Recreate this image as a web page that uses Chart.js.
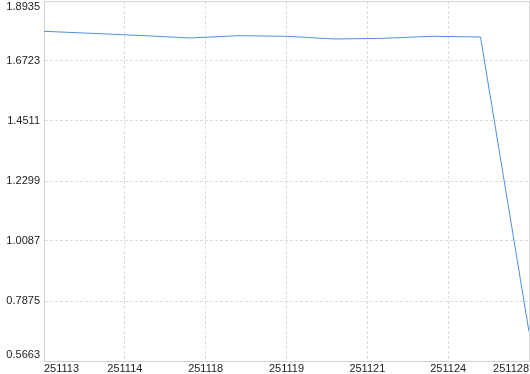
<!DOCTYPE html>
<html>
<head>
<meta charset="utf-8">
<script src="https://cdn.jsdelivr.net/npm/chart.js@4/dist/chart.umd.min.js"></script>
<style>
  html, body { margin: 0; padding: 0; background: #fff; }
  #wrap { width: 530px; height: 374px; position: relative; }
</style>
</head>
<body>
<div id="wrap"><canvas id="chart"></canvas></div>
<script>
// Data
const tickLabels = ['251113', '251114', '251118', '251119', '251121', '251124', '251128'];
const values = [1.7818, 1.7741, 1.7663, 1.7571, 1.7656, 1.7634, 1.7534, 1.7560, 1.7634, 1.7608, 0.6743];
const yMin = 0.5663;
const yMax = 1.8935;
const yStep = 0.2212;

const points = values.map((v, i) => ({ x: i, y: v }));
const lastIndex = values.length - 1;

// Frame round the plot area and y labels kept inside it
const framePlugin = {
  id: 'frame',
  afterDraw(chart) {
    const ctx = chart.ctx;
    const area = chart.chartArea;
    const yScale = chart.scales.y;
    ctx.save();
    ctx.strokeStyle = '#d6d6d6';
    ctx.lineWidth = 1;
    ctx.beginPath();
    ctx.moveTo(area.left, area.top + 0.5);
    ctx.lineTo(area.right + 0.5, area.top + 0.5);
    ctx.lineTo(area.right + 0.5, area.bottom);
    ctx.stroke();

    ctx.fillStyle = '#222';
    ctx.font = '11px "Liberation Sans", Arial, sans-serif';
    ctx.textAlign = 'right';
    ctx.textBaseline = 'middle';
    yScale.ticks.forEach(t => {
      let py = yScale.getPixelForValue(t.value);
      py = Math.min(Math.max(py, area.top + 6), area.bottom - 6.5);
      ctx.fillText(t.value.toFixed(4), area.left - 4, py);
    });
    ctx.restore();
  }
};

new Chart(document.getElementById('chart'), {
  type: 'line',
  data: {
    datasets: [{
      data: points,
      borderColor: '#4a90e2',
      borderWidth: 1,
      pointRadius: 0,
      tension: 0,
      fill: false
    }]
  },
  options: {
    responsive: true,
    maintainAspectRatio: false,
    animation: false,
    layout: { padding: { top: 1, right: 1, left: 0, bottom: 0 } },
    plugins: {
      legend: { display: false },
      tooltip: { enabled: false }
    },
    scales: {
      x: {
        type: 'linear',
        min: 0,
        max: lastIndex,
        afterBuildTicks(scale) {
          scale.ticks = tickLabels.map((_, i) => ({ value: i * lastIndex / (tickLabels.length - 1) }));
        },
        afterFit(scale) { scale.height = 13; },
        grid: {
          color: '#dcdcdc',
          drawTicks: false
        },
        border: { display: true, color: '#cfcfcf', dash: [3, 2] },
        ticks: {
          autoSkip: false,
          maxRotation: 0,
          align: 'inner',
          padding: 1,
          color: '#222',
          font: { family: '"Liberation Sans", Arial, sans-serif', size: 11 },
          callback(value, index) { return tickLabels[index]; }
        }
      },
      y: {
        min: yMin,
        max: yMax,
        afterBuildTicks(scale) {
          const t = [];
          for (let i = 0; i <= 6; i++) t.push({ value: yMin + i * yStep });
          scale.ticks = t;
        },
        afterFit(scale) { scale.width = 44; },
        grid: {
          color: '#dcdcdc',
          drawTicks: false
        },
        border: { display: true, color: '#cfcfcf', dash: [3, 2] },
        ticks: { display: false }
      }
    }
  },
  plugins: [framePlugin]
});
</script>
</body>
</html>
